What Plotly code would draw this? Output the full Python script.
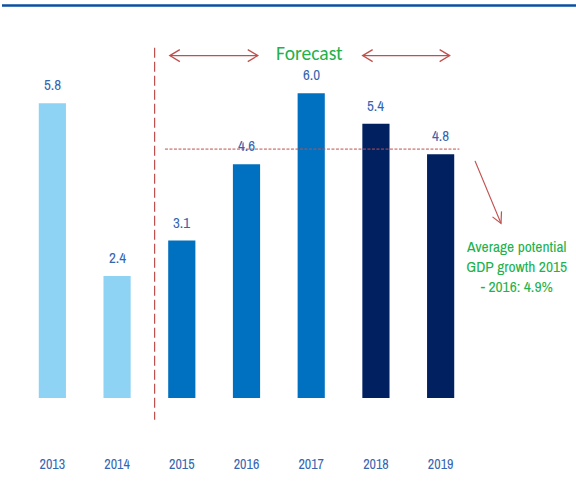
import plotly.graph_objects as go

years = ["2013", "2014", "2015", "2016", "2017", "2018", "2019"]
growth = [5.8, 2.4, 3.1, 4.6, 6.0, 5.4, 4.8]
potential_avg = 4.9
note_text = "Average potential<br>GDP growth 2015<br>- 2016: 4.9%"
forecast_label = "Forecast"

bar_colors = ["#8ed3f4", "#8ed3f4", "#0070c0", "#0070c0", "#0070c0", "#002060", "#002060"]
label_blue = "#3565b0"
red = "#c0504d"
green = "#22b14c"
narrow = "Archivo Narrow, Roboto Condensed, Liberation Sans, sans-serif"

# pixel helpers for the plot frame (l=20, width 453; baseline at 401, height 384)
def px_x(p):
    return (p - 20) / 453

def px_y(p):
    return (401 - p) / 384

fig = go.Figure()
fig.add_trace(go.Bar(
    x=years, y=growth, marker=dict(color=bar_colors, line=dict(width=0)),
    width=0.42, showlegend=False, hoverinfo="skip",
))

annotations = []
for i, v in enumerate(growth):
    annotations.append(dict(
        x=i, y=v, xref="x", yref="y", text=f"{v:.1f}", showarrow=False,
        xanchor="center", yanchor="bottom", yshift=6,
        font=dict(family=narrow, size=15, color=label_blue),
    ))

annotations.append(dict(
    x=3.98, y=6.80, xref="x", yref="y", text=forecast_label, showarrow=False,
    xanchor="center", yanchor="middle",
    font=dict(family="Carlito, Lato, sans-serif", size=19.5, color=green),
))

annotations.append(dict(
    x=px_x(516), y=px_y(268), xref="paper", yref="paper",
    text=note_text, showarrow=False, align="center", xanchor="center", yanchor="middle",
    font=dict(family=narrow, size=15.5, color=green),
))

shapes = []
shapes.append(dict(type="line", xref="paper", yref="paper",
                   x0=px_x(2), x1=px_x(576), y0=px_y(5.5), y1=px_y(5.5),
                   line=dict(color="#0a4fa3", width=2.5)))
shapes.append(dict(type="line", xref="x", yref="paper",
                   x0=1.58, x1=1.58, y0=px_y(48), y1=px_y(423),
                   line=dict(color=red, width=1.2, dash="10px,4px")))
shapes.append(dict(type="line", xref="x", yref="y",
                   x0=1.74, x1=6.29, y0=potential_avg, y1=potential_avg,
                   line=dict(color=red, width=1, dash="3px,1.5px")))

for xa, xb in [(1.815, 3.174), (4.795, 6.139)]:
    yv = 6.74
    shapes.append(dict(type="line", xref="x", yref="y", x0=xa, x1=xb, y0=yv, y1=yv,
                       line=dict(color=red, width=1.3)))
    shapes.append(dict(type="path", xref="x", yref="y", xsizemode="pixel", ysizemode="pixel",
                       xanchor=xa, yanchor=yv, path="M 10 6 L 0 0 L 10 -6",
                       line=dict(color=red, width=1.3)))
    shapes.append(dict(type="path", xref="x", yref="y", xsizemode="pixel", ysizemode="pixel",
                       xanchor=xb, yanchor=yv, path="M -10 6 L 0 0 L -10 -6",
                       line=dict(color=red, width=1.3)))

shapes.append(dict(type="line", xref="paper", yref="paper",
                   x0=px_x(475), y0=px_y(162), x1=px_x(501), y1=px_y(225),
                   line=dict(color=red, width=1.2)))
shapes.append(dict(type="path", xref="paper", yref="paper", xsizemode="pixel", ysizemode="pixel",
                   xanchor=px_x(501), yanchor=px_y(225), path="M -8.5 6.5 L 0 0 L 0.5 12",
                   line=dict(color=red, width=1.2)))

fig.update_layout(
    width=576, height=485,
    margin=dict(l=20, r=103, t=17, b=84),
    paper_bgcolor="white", plot_bgcolor="white",
    annotations=annotations, shapes=shapes,
    xaxis=dict(type="category", range=[-0.5, 6.5], showgrid=False, zeroline=False,
               showline=False, ticks="", ticklabelstandoff=56,
               tickfont=dict(family=narrow, size=14, color=label_blue)),
    yaxis=dict(range=[0, 7.5], visible=False, showgrid=False, zeroline=False),
)

fig.write_html("out.html")
